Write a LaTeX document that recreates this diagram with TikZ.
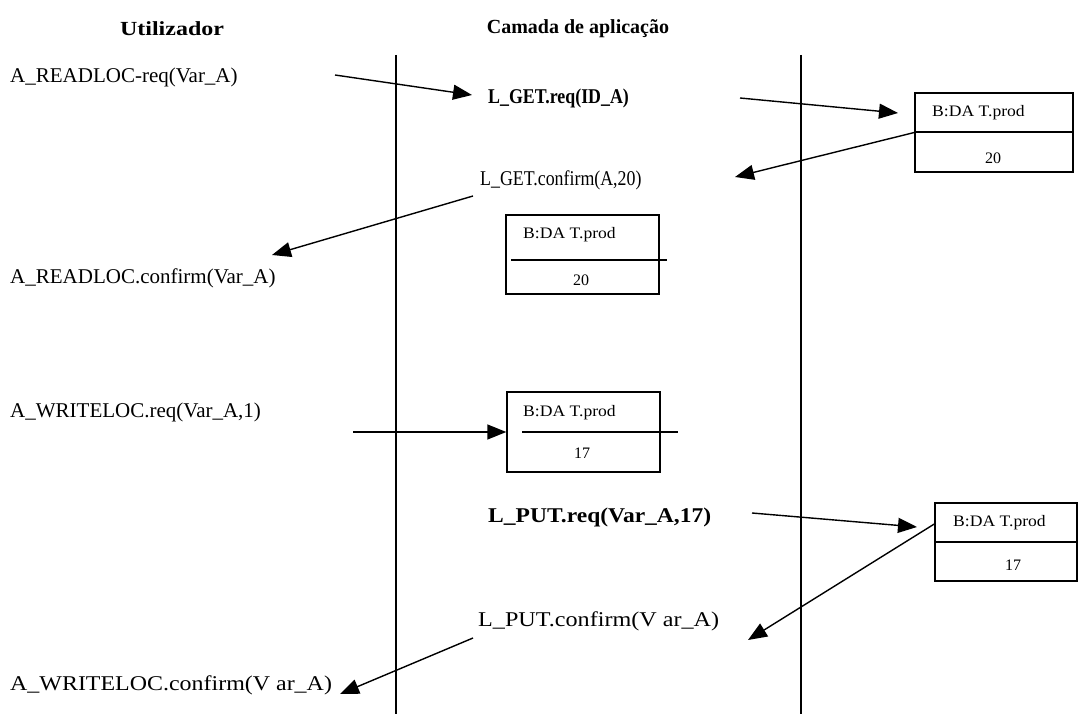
\documentclass[tikz,border=0pt]{standalone}
\usepackage{fontspec}
\setmainfont{Liberation Serif}
\usetikzlibrary{arrows.meta}
\begin{document}
\begin{tikzpicture}[x=1pt,y=-1pt,
  lbl/.style={anchor=west, inner sep=0pt, font=\fontsize{21}{24}\selectfont},
  blbl/.style={anchor=west, inner sep=0pt, font=\fontsize{21}{24}\selectfont\bfseries},
  head/.style={inner sep=0pt, font=\fontsize{20}{24}\selectfont\bfseries},
  msg/.style={line width=1.4pt, -{Triangle[length=19pt,width=15pt]}},
  life/.style={line width=1.5pt},
  divider/.style={line width=1.4pt},
  databox/.style={draw, line width=1.4pt, inner sep=0pt},
  boxtxt/.style={inner sep=0pt, font=\fontsize{16}{18}\selectfont},
  boxtxtw/.style={boxtxt, anchor=west}
]
\useasboundingbox (0,0) rectangle (1080,714);

% headings
\node[head] (hU) at (172,29) {\scalebox{1.2}[1]{Utilizador}};
\node[head] (hC) at (578,29) {Camada de aplicação};

% lifelines
\coordinate (l1t) at (396,55); \coordinate (l1b) at (396,714);
\coordinate (l2t) at (801,55); \coordinate (l2b) at (801,714);
\draw[life] (l1t) -- (l1b);
\draw[life] (l2t) -- (l2b);

% texts
\node[lbl]  (t1) at (10,77)  {A\_READLOC-req(Var\_A)};
\node[blbl] (t2) at (488,98) {\scalebox{0.85}[1]{L\_GET.req(ID\_A)}};
\node[lbl]  (t3) at (480,180) {\scalebox{0.85}[1]{L\_GET.confirm(A,20)}};
\node[lbl]  (t4) at (10,278) {A\_READLOC.confirm(Var\_A)};
\node[lbl]  (t5) at (10,412) {A\_WRITELOC.req(Var\_A,1)};
\node[blbl] (t6) at (488,517) {\scalebox{1.12}[1]{L\_PUT.req(Var\_A,17)}};
\node[lbl]  (t7) at (478,621) {\scalebox{1.15}[1]{L\_PUT.confirm(V ar\_A)}};
\node[lbl]  (t8) at (10,685) {\scalebox{1.14}[1]{A\_WRITELOC.confirm(V ar\_A)}};

% data boxes
\node[databox, minimum width=158pt, minimum height=79pt] (bR1) at (994,132.5) {};
\draw[divider] (bR1.west |- 0,132) -- (bR1.east |- 0,132);
\node[boxtxtw] (bR1a) at (932,113) {\scalebox{1.1}[1]{B:DA T.prod}};
\node[boxtxt] (bR1b) at (993,158) {20};

\node[databox, minimum width=153pt, minimum height=79pt] (bM1) at (582.5,254.5) {};
\coordinate (dM1a) at (511,260); \coordinate (dM1b) at (667,260);
\draw[divider] (dM1a) -- (dM1b);
\node[boxtxtw] (bM1a) at (523,235) {\scalebox{1.1}[1]{B:DA T.prod}};
\node[boxtxt] (bM1b) at (581,280) {20};

\node[databox, minimum width=153pt, minimum height=80pt] (bM2) at (583.5,432) {};
\coordinate (dM2a) at (522,432); \coordinate (dM2b) at (678,432);
\draw[divider] (dM2a) -- (dM2b);
\node[boxtxtw] (bM2a) at (523,413) {\scalebox{1.1}[1]{B:DA T.prod}};
\node[boxtxt] (bM2b) at (582,453) {17};

\node[databox, minimum width=142pt, minimum height=78pt] (bR2) at (1006,542) {};
\draw[divider] (bR2.west) -- (bR2.east);
\node[boxtxtw] (bR2a) at (953,523) {\scalebox{1.1}[1]{B:DA T.prod}};
\node[boxtxt] (bR2b) at (1013,565) {17};

% connector free ends
\coordinate (a1s) at (335,75);  \coordinate (a1e) at (472,95);
\coordinate (a2s) at (740,98);  \coordinate (a2e) at (898,113);
\coordinate (a3e) at (735,177);
\coordinate (a4s) at (473,196); \coordinate (a4e) at (272,255);
\coordinate (a5s) at (353,432);
\coordinate (a6s) at (752,513); \coordinate (a6e) at (917,527);
\coordinate (a7e) at (748,640);
\coordinate (a8s) at (473,638); \coordinate (a8e) at (340,694);

% messages
\draw[msg] (a1s) -- (a1e);
\draw[msg] (a2s) -- (a2e);
\draw[msg] (bR1.west) -- (a3e);
\draw[msg] (a4s) -- (a4e);
\draw[msg] (a5s) -- (bM2.west);
\draw[msg] (a6s) -- (a6e);
\draw[msg] ([yshift=18pt]bR2.west) -- (a7e);
\draw[msg] (a8s) -- (a8e);
\end{tikzpicture}
\end{document}
